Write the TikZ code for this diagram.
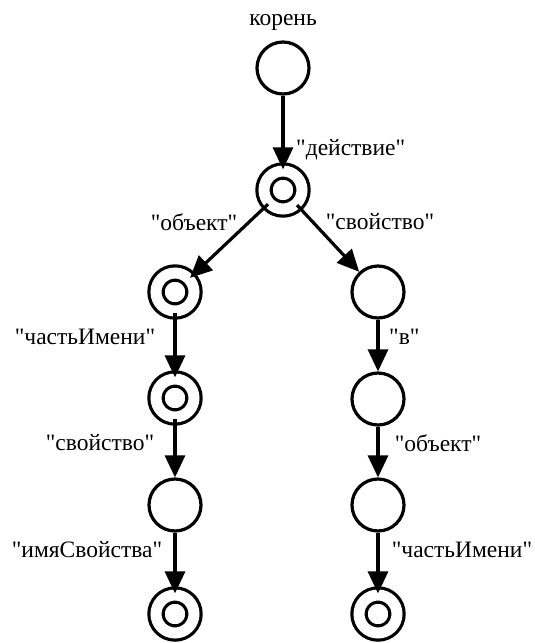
\documentclass[tikz,border=0pt]{standalone}
\usepackage{fontspec}
\setmainfont{Liberation Serif}[Ligatures=TeXOff]
\usetikzlibrary{arrows.meta}
\begin{document}
\begin{tikzpicture}[x=1pt,y=-1pt,
  state/.style={circle,draw,line width=3.2pt,minimum size=52pt,inner sep=0pt},
  accept/.style={state,double,double distance=11pt,line width=3.2pt,minimum size=38pt},
  edge/.style={line width=3.2pt,-{Triangle[length=22pt,width=20pt]}},
  lbl/.style={font=\fontsize{23.5}{26}\selectfont,inner sep=0pt}]
\useasboundingbox (0,0) rectangle (535,643);
% states
\node[state]  (root) at (283,68) {};
\node[accept] (act)  at (283,190) {};
\node[accept] (l1)   at (175,292) {};
\node[accept] (l2)   at (175,398) {};
\node[state]  (l3)   at (175,505) {};
\node[accept] (l4)   at (175,614) {};
\node[state]  (r1)   at (378,292) {};
\node[state]  (r2)   at (378,399) {};
\node[state]  (r3)   at (378,505) {};
\node[accept] (r4)   at (378,614) {};
% transitions
\draw[edge] (root) -- (act);
\draw[edge] (act) -- (l1);
\draw[edge] (act) -- (r1);
\draw[edge] (l1) -- (l2);
\draw[edge] (l2) -- (l3);
\draw[edge] (l3) -- (l4);
\draw[edge] (r1) -- (r2);
\draw[edge] (r2) -- (r3);
\draw[edge] (r3) -- (r4);
% labels
\node[lbl] (t0) at (283,22) {корень};
\node[lbl,anchor=west] (t1) at (296,150) {"действие"};
\node[lbl] (t2) at (194,222) {"объект"};
\node[lbl] (t3) at (380,222) {"свойство"};
\node[lbl] (t4) at (85,337) {"частьИмени"};
\node[lbl,anchor=west] (t5) at (389,337) {"в"};
\node[lbl] (t6) at (100,443) {"свойство"};
\node[lbl] (t7) at (438,443) {"объект"};
\node[lbl] (t8) at (87,550) {"имяСвойства"};
\node[lbl] (t9) at (462,550) {"частьИмени"};
\end{tikzpicture}
\end{document}
